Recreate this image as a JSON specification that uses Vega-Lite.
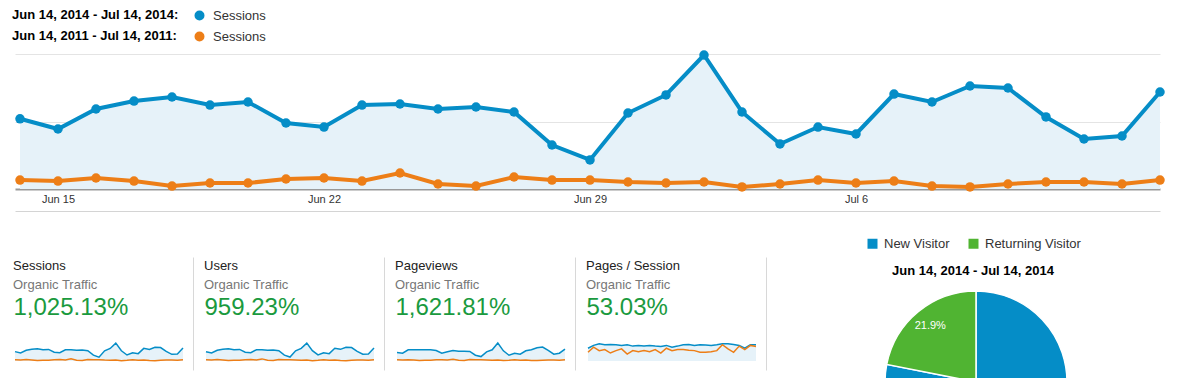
{
  "$schema": "https://vega.github.io/schema/vega-lite/v6.json",
  "background": "#ffffff",
  "padding": {"left": 12, "top": 9, "right": 0, "bottom": 0},
  "config": {
    "font": "Liberation Sans",
    "view": {"stroke": null},
    "axis": {"minExtent": 0, "maxExtent": 200}
  },
  "datasets": {
    "ga": [
      {"day": "Jun 14", "s14": 1040, "s11": 133, "u14": 950, "u11": 120, "p14": 943, "p11": 130, "q14": 1.81, "q11": 1.23},
      {"day": "Jun 15", "s14": 889, "s11": 118, "u14": 815, "u11": 106, "p14": 868, "p11": 115, "q14": 2.21, "q11": 1.96},
      {"day": "Jun 16", "s14": 1185, "s11": 163, "u14": 1090, "u11": 148, "p14": 1245, "p11": 150, "q14": 2.45, "q11": 1.47},
      {"day": "Jun 17", "s14": 1303, "s11": 118, "u14": 1195, "u11": 108, "p14": 1245, "p11": 115, "q14": 2.30, "q11": 1.62},
      {"day": "Jun 18", "s14": 1363, "s11": 44, "u14": 1250, "u11": 40, "p14": 1245, "p11": 60, "q14": 2.35, "q11": 1.13},
      {"day": "Jun 19", "s14": 1244, "s11": 89, "u14": 1140, "u11": 80, "p14": 1245, "p11": 90, "q14": 2.30, "q11": 1.47},
      {"day": "Jun 20", "s14": 1289, "s11": 89, "u14": 1180, "u11": 82, "p14": 1245, "p11": 90, "q14": 2.21, "q11": 1.72},
      {"day": "Jun 21", "s14": 978, "s11": 148, "u14": 900, "u11": 134, "p14": 1170, "p11": 140, "q14": 2.30, "q11": 0.98},
      {"day": "Jun 22", "s14": 918, "s11": 163, "u14": 845, "u11": 148, "p14": 868, "p11": 150, "q14": 2.11, "q11": 1.47},
      {"day": "Jun 23", "s14": 1244, "s11": 118, "u14": 1145, "u11": 106, "p14": 1019, "p11": 115, "q14": 2.21, "q11": 1.32},
      {"day": "Jun 24", "s14": 1259, "s11": 237, "u14": 1150, "u11": 214, "p14": 1170, "p11": 200, "q14": 2.11, "q11": 1.47},
      {"day": "Jun 25", "s14": 1185, "s11": 74, "u14": 1085, "u11": 68, "p14": 1094, "p11": 80, "q14": 2.21, "q11": 1.32},
      {"day": "Jun 26", "s14": 1215, "s11": 44, "u14": 1115, "u11": 40, "p14": 1094, "p11": 60, "q14": 2.11, "q11": 1.62},
      {"day": "Jun 27", "s14": 1141, "s11": 178, "u14": 1045, "u11": 160, "p14": 1057, "p11": 160, "q14": 2.06, "q11": 1.13},
      {"day": "Jun 28", "s14": 652, "s11": 133, "u14": 600, "u11": 120, "p14": 642, "p11": 130, "q14": 2.21, "q11": 1.81},
      {"day": "Jun 29", "s14": 430, "s11": 133, "u14": 400, "u11": 120, "p14": 490, "p11": 130, "q14": 1.96, "q11": 1.47},
      {"day": "Jun 30", "s14": 1126, "s11": 104, "u14": 1035, "u11": 95, "p14": 1019, "p11": 105, "q14": 2.11, "q11": 1.62},
      {"day": "Jul 1", "s14": 1393, "s11": 89, "u14": 1280, "u11": 80, "p14": 1245, "p11": 90, "q14": 2.30, "q11": 1.62},
      {"day": "Jul 2", "s14": 1985, "s11": 104, "u14": 1820, "u11": 94, "p14": 2000, "p11": 105, "q14": 2.35, "q11": 1.52},
      {"day": "Jul 3", "s14": 1141, "s11": 30, "u14": 1050, "u11": 28, "p14": 1132, "p11": 50, "q14": 2.21, "q11": 1.47},
      {"day": "Jul 4", "s14": 667, "s11": 74, "u14": 615, "u11": 67, "p14": 642, "p11": 80, "q14": 2.30, "q11": 1.23},
      {"day": "Jul 5", "s14": 918, "s11": 133, "u14": 845, "u11": 120, "p14": 868, "p11": 130, "q14": 2.25, "q11": 1.23},
      {"day": "Jul 6", "s14": 815, "s11": 89, "u14": 750, "u11": 80, "p14": 755, "p11": 90, "q14": 2.21, "q11": 1.32},
      {"day": "Jul 7", "s14": 1407, "s11": 118, "u14": 1290, "u11": 106, "p14": 1132, "p11": 115, "q14": 2.30, "q11": 1.47},
      {"day": "Jul 8", "s14": 1289, "s11": 44, "u14": 1185, "u11": 40, "p14": 1245, "p11": 60, "q14": 2.45, "q11": 2.30},
      {"day": "Jul 9", "s14": 1526, "s11": 30, "u14": 1395, "u11": 28, "p14": 1472, "p11": 50, "q14": 2.45, "q11": 1.72},
      {"day": "Jul 10", "s14": 1496, "s11": 74, "u14": 1370, "u11": 67, "p14": 1547, "p11": 80, "q14": 2.35, "q11": 1.23},
      {"day": "Jul 11", "s14": 1067, "s11": 104, "u14": 980, "u11": 94, "p14": 1170, "p11": 105, "q14": 2.21, "q11": 2.11},
      {"day": "Jul 12", "s14": 741, "s11": 104, "u14": 690, "u11": 94, "p14": 755, "p11": 105, "q14": 1.81, "q11": 1.62},
      {"day": "Jul 13", "s14": 785, "s11": 74, "u14": 720, "u11": 67, "p14": 868, "p11": 80, "q14": 2.30, "q11": 2.21},
      {"day": "Jul 14", "s14": 1437, "s11": 133, "u14": 1320, "u11": 120, "p14": 1320, "p11": 130, "q14": 2.30, "q11": 2.06}
    ],
    "visitors": [
      {"visitor": "New Visitor", "share": 78.1, "label": "78.1%"},
      {"visitor": "Returning Visitor", "share": 21.9, "label": "21.9%"}
    ]
  },
  "concat": [
    {
      "width": 1145,
      "height": 135,
      "data": {"name": "ga"},
      "title": {
        "text": ["Jun 14, 2014 - Jul 14, 2014:", "Jun 14, 2011 - Jul 14, 2011:"],
        "anchor": "start", "frame": "group", "fontSize": 13, "fontWeight": "bold",
        "color": "#000000", "lineHeight": 21, "dx": -3, "offset": -34
      },
      "layer": [
        {
          "mark": {"type": "area", "color": "#e6f2f9"},
          "encoding": {
            "x": {"field": "day", "type": "ordinal", "sort": null, "scale": {"type": "point", "padding": 0.0658, "align": 1},
              "axis": {"values": ["Jun 15", "Jun 22", "Jun 29", "Jul 6"], "labelAngle": 0, "ticks": false, "tickSize": 0,
                "labelPadding": 4, "labelFontSize": 11, "labelColor": "#333333", "domainColor": "#999999", "domainWidth": 2,
                "title": null, "grid": false}},
            "y": {"field": "s14", "type": "quantitative", "scale": {"domain": [0, 2000], "nice": false},
              "axis": {"values": [1000, 2000], "labels": false, "ticks": false, "domain": false, "grid": true, "gridColor": "#e4e4e4", "title": null}}
          }
        },
        {
          "transform": [{"fold": ["s14", "s11"], "as": ["series", "value"]}],
          "mark": {"type": "line", "strokeWidth": 4, "point": {"filled": true, "size": 90}},
          "encoding": {
            "x": {"field": "day", "type": "ordinal", "sort": null, "scale": {"type": "point", "padding": 0.0658, "align": 1},
              "axis": {"orient": "bottom", "offset": 22, "labels": false, "ticks": false, "domain": true, "domainColor": "#d4d4d4", "domainWidth": 1, "title": null, "grid": false}},
            "y": {"field": "value", "type": "quantitative",
              "axis": {"values": [1000, 2000], "labels": false, "ticks": false, "domain": false, "grid": true, "gridColor": "#e4e4e4", "title": null}},
            "color": {"field": "series", "type": "nominal",
              "scale": {"domain": ["s14", "s11"], "range": ["#058dc7", "#ed7e17"]},
              "legend": {"orient": "none", "legendX": 178, "legendY": -45, "direction": "vertical", "title": null,
                "labelExpr": "'Sessions'", "symbolType": "circle", "symbolSize": 25, "symbolStrokeWidth": 5,
                "labelFontSize": 13, "labelColor": "#333333", "labelOffset": 7, "rowPadding": -4, "padding": 0}}
          }
        }
      ],
      "resolve": {"axis": {"x": "independent"}}
    },
    {
      "hconcat": [
        {
          "width": 168, "height": 18,
          "data": {"name": "ga"},
          "title": {"text": "Sessions", "subtitle": "Organic Traffic", "anchor": "start", "frame": "group", "fontSize": 13, "fontWeight": "normal", "color": "#222222", "subtitleFontSize": 13, "subtitleColor": "#777777", "subtitlePadding": 6, "offset": -35, "dx": -2},
          "layer": [
            {
              "mark": {"type": "area", "color": "#e6f2f9"},
              "encoding": {
                "x": {"field": "day", "type": "ordinal", "sort": null, "scale": {"type": "point", "padding": 0},
                  "axis": {"orient": "top", "title": "1,025.13%", "labels": false, "ticks": false, "domain": false, "grid": false, "titleFontSize": 24, "titleFontWeight": "normal", "titleColor": "#1a9a3e", "titleAnchor": "start", "titleX": -2, "titlePadding": 23.5}},
                "y": {"field": "s14", "type": "quantitative", "axis": null, "scale": {"domain": [0, 2000], "nice": false}}
              }
            },
            {
              "transform": [{"fold": ["s14", "s11"], "as": ["series", "value"]}],
              "mark": {"type": "line", "strokeWidth": 1.5},
              "encoding": {
                "x": {"field": "day", "type": "ordinal", "sort": null, "scale": {"type": "point", "padding": 0},
                  "axis": {"orient": "bottom", "values": ["Jul 14"], "labels": false, "domain": false, "ticks": true, "tickSize": -113, "tickOffset": 10, "offset": 9, "tickColor": "#d8d8d8", "tickWidth": 1, "title": null, "grid": false}},
                "y": {"field": "value", "type": "quantitative", "axis": null},
                "color": {"field": "series", "type": "nominal", "scale": {"domain": ["s14", "s11"], "range": ["#058dc7", "#ed7e17"]}, "legend": null}
              }
            }
          ],
          "resolve": {"axis": {"x": "independent"}}
        },
        {
          "width": 168, "height": 18,
          "data": {"name": "ga"},
          "title": {"text": "Users", "subtitle": "Organic Traffic", "anchor": "start", "frame": "group", "fontSize": 13, "fontWeight": "normal", "color": "#222222", "subtitleFontSize": 13, "subtitleColor": "#777777", "subtitlePadding": 6, "offset": -35, "dx": -2},
          "layer": [
            {
              "mark": {"type": "area", "color": "#e6f2f9"},
              "encoding": {
                "x": {"field": "day", "type": "ordinal", "sort": null, "scale": {"type": "point", "padding": 0},
                  "axis": {"orient": "top", "title": "959.23%", "labels": false, "ticks": false, "domain": false, "grid": false, "titleFontSize": 24, "titleFontWeight": "normal", "titleColor": "#1a9a3e", "titleAnchor": "start", "titleX": -2, "titlePadding": 23.5}},
                "y": {"field": "u14", "type": "quantitative", "axis": null, "scale": {"domain": [0, 1830], "nice": false}}
              }
            },
            {
              "transform": [{"fold": ["u14", "u11"], "as": ["series", "value"]}],
              "mark": {"type": "line", "strokeWidth": 1.5},
              "encoding": {
                "x": {"field": "day", "type": "ordinal", "sort": null, "scale": {"type": "point", "padding": 0},
                  "axis": {"orient": "bottom", "values": ["Jul 14"], "labels": false, "domain": false, "ticks": true, "tickSize": -113, "tickOffset": 10, "offset": 9, "tickColor": "#d8d8d8", "tickWidth": 1, "title": null, "grid": false}},
                "y": {"field": "value", "type": "quantitative", "axis": null},
                "color": {"field": "series", "type": "nominal", "scale": {"domain": ["u14", "u11"], "range": ["#058dc7", "#ed7e17"]}, "legend": null}
              }
            }
          ],
          "resolve": {"axis": {"x": "independent"}}
        },
        {
          "width": 168, "height": 18,
          "data": {"name": "ga"},
          "title": {"text": "Pageviews", "subtitle": "Organic Traffic", "anchor": "start", "frame": "group", "fontSize": 13, "fontWeight": "normal", "color": "#222222", "subtitleFontSize": 13, "subtitleColor": "#777777", "subtitlePadding": 6, "offset": -35, "dx": -2},
          "layer": [
            {
              "mark": {"type": "area", "color": "#e6f2f9"},
              "encoding": {
                "x": {"field": "day", "type": "ordinal", "sort": null, "scale": {"type": "point", "padding": 0},
                  "axis": {"orient": "top", "title": "1,621.81%", "labels": false, "ticks": false, "domain": false, "grid": false, "titleFontSize": 24, "titleFontWeight": "normal", "titleColor": "#1a9a3e", "titleAnchor": "start", "titleX": -2, "titlePadding": 23.5}},
                "y": {"field": "p14", "type": "quantitative", "axis": null, "scale": {"domain": [0, 2000], "nice": false}}
              }
            },
            {
              "transform": [{"fold": ["p14", "p11"], "as": ["series", "value"]}],
              "mark": {"type": "line", "strokeWidth": 1.5},
              "encoding": {
                "x": {"field": "day", "type": "ordinal", "sort": null, "scale": {"type": "point", "padding": 0},
                  "axis": {"orient": "bottom", "values": ["Jul 14"], "labels": false, "domain": false, "ticks": true, "tickSize": -113, "tickOffset": 10, "offset": 9, "tickColor": "#d8d8d8", "tickWidth": 1, "title": null, "grid": false}},
                "y": {"field": "value", "type": "quantitative", "axis": null},
                "color": {"field": "series", "type": "nominal", "scale": {"domain": ["p14", "p11"], "range": ["#058dc7", "#ed7e17"]}, "legend": null}
              }
            }
          ],
          "resolve": {"axis": {"x": "independent"}}
        },
        {
          "width": 168, "height": 18,
          "data": {"name": "ga"},
          "title": {"text": "Pages / Session", "subtitle": "Organic Traffic", "anchor": "start", "frame": "group", "fontSize": 13, "fontWeight": "normal", "color": "#222222", "subtitleFontSize": 13, "subtitleColor": "#777777", "subtitlePadding": 6, "offset": -35, "dx": -2},
          "layer": [
            {
              "mark": {"type": "area", "color": "#e6f2f9"},
              "encoding": {
                "x": {"field": "day", "type": "ordinal", "sort": null, "scale": {"type": "point", "padding": 0},
                  "axis": {"orient": "top", "title": "53.03%", "labels": false, "ticks": false, "domain": false, "grid": false, "titleFontSize": 24, "titleFontWeight": "normal", "titleColor": "#1a9a3e", "titleAnchor": "start", "titleX": -2, "titlePadding": 23.5}},
                "y": {"field": "q14", "type": "quantitative", "axis": null, "scale": {"domain": [0, 2.55], "nice": false}}
              }
            },
            {
              "transform": [{"fold": ["q14", "q11"], "as": ["series", "value"]}],
              "mark": {"type": "line", "strokeWidth": 1.5},
              "encoding": {
                "x": {"field": "day", "type": "ordinal", "sort": null, "scale": {"type": "point", "padding": 0},
                  "axis": {"orient": "bottom", "values": ["Jul 14"], "labels": false, "domain": false, "ticks": true, "tickSize": -113, "tickOffset": 10, "offset": 9, "tickColor": "#d8d8d8", "tickWidth": 1, "title": null, "grid": false}},
                "y": {"field": "value", "type": "quantitative", "axis": null},
                "color": {"field": "series", "type": "nominal", "scale": {"domain": ["q14", "q11"], "range": ["#058dc7", "#ed7e17"]}, "legend": null}
              }
            }
          ],
          "resolve": {"axis": {"x": "independent"}}
        },
        {
          "width": 394, "height": 78,
          "data": {"name": "visitors"},
          "layer": [
            {
              "mark": {"type": "arc", "outerRadius": 91, "stroke": "#ffffff", "strokeWidth": 1.5},
              "encoding": {
                "theta": {"field": "share", "type": "quantitative", "stack": true},
                "order": {"field": "visitor", "sort": "ascending"},
                "color": {"field": "visitor", "type": "nominal",
                  "scale": {"domain": ["New Visitor", "Returning Visitor"], "range": ["#058dc7", "#50b432"]},
                  "legend": {"orient": "none", "legendX": 87, "legendY": -106, "direction": "horizontal",
                    "title": "Jun 14, 2014 - Jul 14, 2014", "titleOrient": "bottom", "titleAnchor": "middle",
                    "titleFontSize": 13, "titleFontWeight": "bold", "titleColor": "#000000", "titlePadding": 14,
                    "symbolType": "square", "symbolSize": 100, "symbolStrokeWidth": 0,
                    "labelFontSize": 13, "labelColor": "#333333", "columnPadding": 17, "labelOffset": 5, "padding": 0}}
              }
            },
            {
              "mark": {"type": "text", "radius": 72, "color": "#ffffff", "fontSize": 11},
              "encoding": {
                "theta": {"field": "share", "type": "quantitative", "stack": true},
                "order": {"field": "visitor", "sort": "ascending"},
                "detail": {"field": "visitor", "type": "nominal"},
                "text": {"field": "label"}
              }
            }
          ]
        }
      ],
      "spacing": 23,
      "bounds": "flush",
      "resolve": {"scale": {"color": "independent"}}
    }
  ],
  "columns": 1,
  "spacing": 26,
  "resolve": {"scale": {"color": "independent"}}
}
